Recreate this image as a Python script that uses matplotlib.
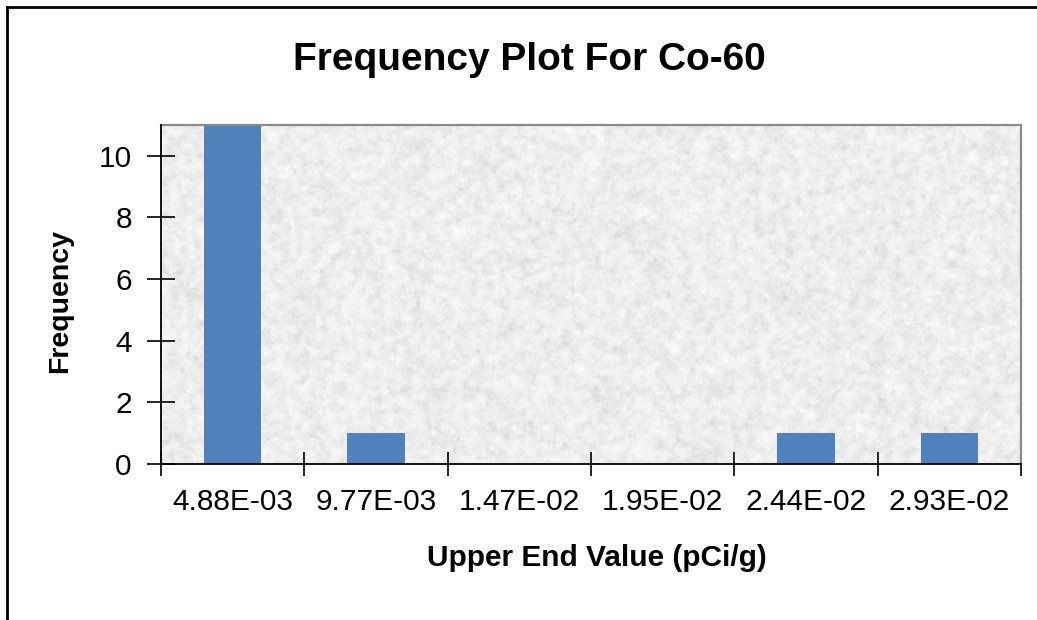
import matplotlib
matplotlib.use("Agg")
import matplotlib.pyplot as plt
from matplotlib.lines import Line2D
import numpy as np

# histogram bins (upper end value) and counts
bin_labels = ['4.88E-03', '9.77E-03', '1.47E-02', '1.95E-02', '2.44E-02', '2.93E-02']
counts = [11, 1, 0, 0, 1, 1]

plt.rcParams['font.family'] = ['Liberation Sans', 'DejaVu Sans']

W, H = 1037, 620
fig = plt.figure(figsize=(W / 100, H / 100), dpi=100)
fig.patch.set_facecolor('white')

ax = fig.add_axes([161 / W, 1 - 464 / H, (1021 - 161) / W, (464 - 125) / H])


def hash2(a, b):
    v = np.sin(a * 12.9898 + b * 78.233) * 43758.5453
    return v - np.floor(v)


def blur(a, k):
    for axis in (0, 1):
        a = sum(np.roll(a, s, axis=axis) for s in range(-k, k + 1)) / (2 * k + 1)
    return a


def granite(h, w):
    yy, xx = np.mgrid[0:h, 0:w].astype(float)
    fine = blur(hash2(xx, yy), 1)
    coarse = blur(hash2(np.floor(xx / 5) + 3.1, np.floor(yy / 5) + 7.7), 3)
    t = 0.55 * fine + 0.45 * coarse
    t = (t - t.min()) / (t.max() - t.min())
    g = 0.80 + 0.20 * np.clip(t, 0, 1) ** 0.55
    return np.dstack([g, g, g])


x = np.arange(len(bin_labels))
ax.set_xlim(-0.5, len(bin_labels) - 0.5)
ax.set_ylim(0, 11)

# stone-like plot area fill
ax.imshow(granite(339, 860), extent=[-0.5, len(bin_labels) - 0.5, 0, 11],
          aspect='auto', zorder=0, interpolation='bilinear')

ax.bar(x, counts, width=0.4, color='#4F81BD', zorder=2)

ax.set_xticks(x)
ax.set_xticklabels(bin_labels)
ax.set_xticks(np.arange(-0.5, len(bin_labels)), minor=True)
ax.tick_params(axis='x', which='major', length=0, pad=17, labelsize=21.5)
ax.tick_params(axis='x', which='minor', direction='inout', length=17, width=1.2)

ax.set_yticks(range(0, 11, 2))
ax.tick_params(axis='y', which='major', direction='inout', length=20, width=1.2,
               pad=11, labelsize=21.5)

for side in ('top', 'right'):
    ax.spines[side].set_color('#8a8a8a')
    ax.spines[side].set_linewidth(1.6)
for side in ('left', 'bottom'):
    ax.spines[side].set_color('black')
    ax.spines[side].set_linewidth(1.3)
    ax.spines[side].set_zorder(3)

fig.text(529 / W, 1 - 60 / H, 'Frequency Plot For Co-60', ha='center', va='center',
         fontsize=28, fontweight='bold')
fig.text(597 / W, 1 - 558 / H, 'Upper End Value (pCi/g)', ha='center', va='center',
         fontsize=21.5, fontweight='bold')
fig.text(60 / W, 1 - 301 / H, 'Frequency', ha='center', va='center', rotation=90,
         fontsize=20.5, fontweight='bold')

# chart frame
fig.add_artist(Line2D([6.5 / W, 6.5 / W], [0, 1 - 6.5 / H], color='black', lw=2))
fig.add_artist(Line2D([6.5 / W, 1], [1 - 6.5 / H, 1 - 6.5 / H], color='black', lw=2))

fig.savefig('out.png', dpi=100)
